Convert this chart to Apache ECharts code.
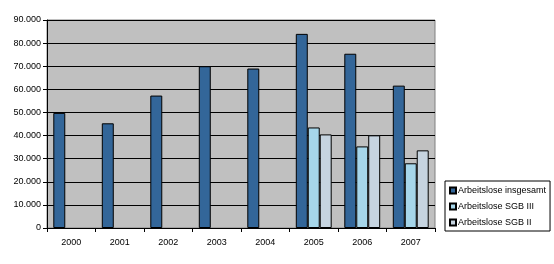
<!DOCTYPE html>
<html><head><meta charset="utf-8">
<script src="https://cdn.jsdelivr.net/npm/echarts@6/dist/echarts.min.js"></script>
<style>html,body{margin:0;padding:0;background:#fff}#c{width:554px;height:264px}</style>
</head><body><div id="c"></div>
<script>
const years = ['2000','2001','2002','2003','2004','2005','2006','2007'];
const insgesamt = [49800, 45300, 57300, 70000, 69000, 84000, 75400, 61600];
const sgb3 = [null, null, null, null, null, 43500, 35300, 28000];
const sgb2 = [null, null, null, null, null, 40500, 40100, 33600];
const seriesNames = ['Arbeitslose insgesamt', 'Arbeitslose SGB III', 'Arbeitslose SGB II'];
const colors = ['#336699', '#a6d6ea', '#c6d4e0'];
const font = 'Liberation Sans, Arial, sans-serif';
const chart = echarts.init(document.getElementById('c'));
const fmt = v => v === 0 ? '0' : String(v).replace(/\B(?=(\d{3})+(?!\d))/g, '.');
const mk = (name, data, i) => ({
  name, type: 'bar', data, barGap: '0%', barCategoryGap: '26%',
  itemStyle: { color: colors[i], borderColor: '#000', borderWidth: 1 },
  animation: false
});
chart.setOption({
  animation: false,
  textStyle: { fontFamily: font },
  grid: { left: 47, top: 20, width: 388, height: 208, show: true, backgroundColor: '#c0c0c0', borderColor: '#808080', borderWidth: 1 },
  xAxis: {
    type: 'category', data: years,
    axisLine: { lineStyle: { color: '#000', width: 1 } },
    axisTick: { show: true, length: 4, lineStyle: { color: '#000' } },
    axisLabel: { color: '#000', fontSize: 9, fontFamily: font, margin: 10 }
  },
  yAxis: {
    type: 'value', min: 0, max: 90000, interval: 10000,
    axisLine: { show: true, lineStyle: { color: '#000', width: 1 } },
    axisTick: { show: true, length: 4, lineStyle: { color: '#000' } },
    splitLine: { lineStyle: { color: '#000', width: 1 } },
    axisLabel: { color: '#000', fontSize: 9, fontFamily: font, formatter: fmt, margin: 6 }
  },
  legend: {
    orient: 'vertical', left: 445, top: 181,
    itemWidth: 6, itemHeight: 6, itemGap: 7,
    borderColor: '#000', borderWidth: 1, padding: [5, 4, 4, 4],
    textStyle: { fontSize: 9, fontFamily: font, color: '#000', padding: [0, 0, 0, -3] },
    data: seriesNames.map(n => ({ name: n, icon: 'rect' }))
  },
  series: [mk(seriesNames[0], insgesamt, 0), mk(seriesNames[1], sgb3, 1), mk(seriesNames[2], sgb2, 2)]
});
</script></body></html>
